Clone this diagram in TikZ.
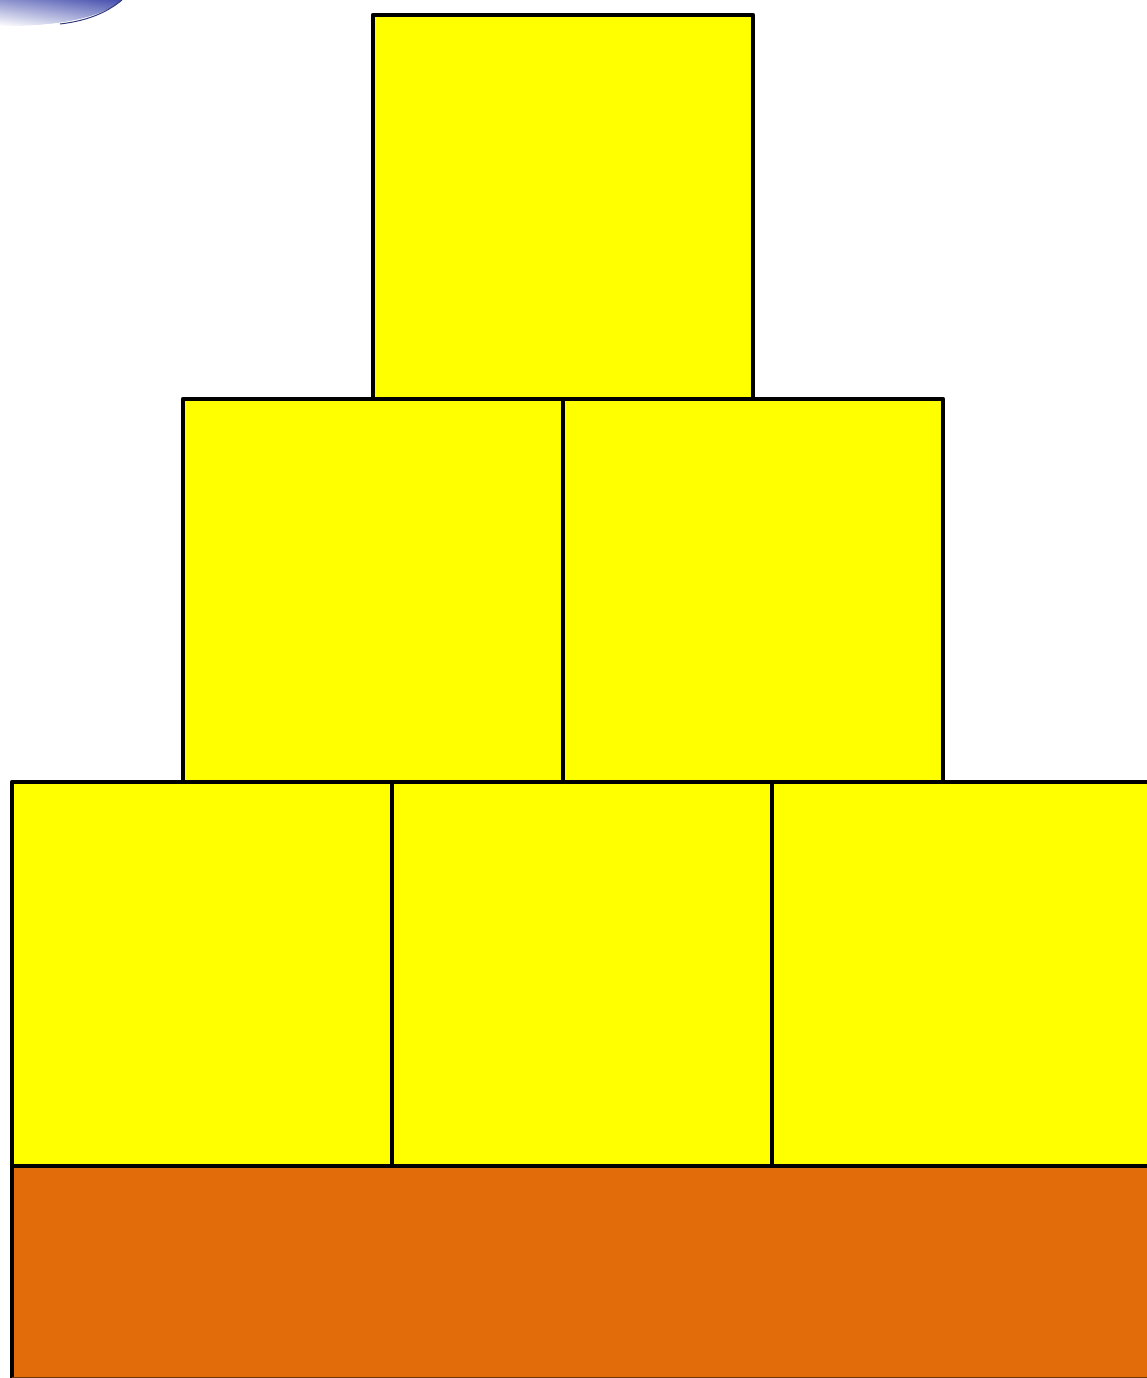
\documentclass[tikz,border=0pt]{standalone}
\usetikzlibrary{calc}
\definecolor{boxyellow}{RGB}{255,255,0}
\definecolor{baseorange}{RGB}{227,108,10}
\definecolor{swoosh}{RGB}{70,80,175}
\tikzset{
  blockbox/.style={draw=black, line width=4.4pt, fill=boxyellow, line join=round},
  basebox/.style={draw=black, line width=4.4pt, fill=baseorange},
}
\begin{document}
\begin{tikzpicture}[x=1pt,y=-1pt]
\useasboundingbox (0,0) rectangle (1147,1378);
\begin{scope}
\clip (0,0) rectangle (1147,1378);
% top-left swoosh
\shade[left color=white, right color=swoosh] (0,0) -- (0,26) .. controls (60,26) and (100,18) .. (122,0) -- cycle;
\shade[top color=swoosh, bottom color=white, opacity=0.6] (0,0) -- (0,26) .. controls (60,26) and (100,18) .. (122,0) -- cycle;
\draw[swoosh!70!black, line width=1pt] (60,24) .. controls (85,21) and (105,14) .. (122,0);
% base
\draw[basebox] (12,1166) rectangle (1200,1420);
\draw[baseorange!50!black, line width=1pt] (12,1377) -- (1147,1377);
% bottom row
\draw[blockbox] (12,782) rectangle (392,1166);
\draw[blockbox] (392,782) rectangle (772,1166);
\draw[blockbox] (772,782) rectangle (1152,1166);
% middle row
\draw[blockbox] (183,399) rectangle (563,782);
\draw[blockbox] (563,399) rectangle (943,782);
% top
\draw[blockbox] (373,15) rectangle (753,399);
\end{scope}
\end{tikzpicture}
\end{document}
